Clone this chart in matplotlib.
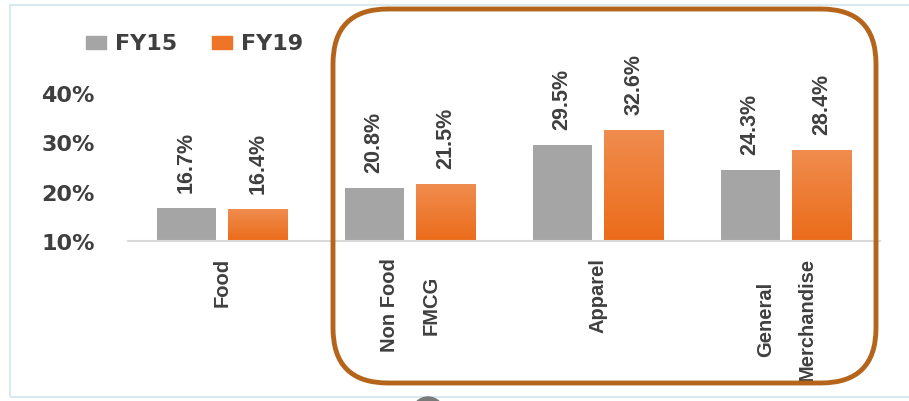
import numpy as np
import matplotlib
matplotlib.use('Agg')
import matplotlib.pyplot as plt
from matplotlib.patches import FancyBboxPatch, Rectangle, Circle
from matplotlib.transforms import IdentityTransform
from matplotlib.colors import LinearSegmentedColormap

### data ======================================================================
categories = ['Food', 'Non Food\nFMCG', 'Apparel', 'General\nMerchandise']
fy15 = [16.7, 20.8, 29.5, 24.3]
fy19 = [16.4, 21.5, 32.6, 28.4]
series_names = ['FY15', 'FY19']
yticks = [10, 20, 30, 40]

### style =====================================================================
c_gray = '#A5A5A5'
c_orange = '#EE7528'
c_text = '#3F3F3F'
c_box = '#B4651B'
narrow = ['Liberation Sans', 'DejaVu Sans']
W, H = 909, 402

fig = plt.figure(figsize=(W/100, H/100), dpi=100)
fig.patch.set_facecolor('white')
ax = fig.add_axes([128/W, (H-242)/H, 752/W, 148/H])

x = np.arange(len(categories))
bw, off = 0.314, 0.191
b1 = ax.bar(x - off, fy15, bw, color=c_gray, zorder=2)
b2 = ax.bar(x + off, fy19, bw, color=c_orange, zorder=2)

# soft vertical gradient on the orange bars
grad = LinearSegmentedColormap.from_list('og', ['#EB6C1A', '#F08C4E'])
for rect, v in zip(b2, fy19):
    x0 = rect.get_x()
    im = ax.imshow(np.linspace(0, 1, 64).reshape(-1, 1), cmap=grad, origin='lower',
                   extent=[x0, x0 + bw, 10, v], aspect='auto', zorder=2.5)
    im.set_clip_path(rect)

for bars, vals in ((b1, fy15), (b2, fy19)):
    for rect, v in zip(bars, vals):
        ax.annotate(f'{v:.1f}%', (rect.get_x() + bw/2, v), xytext=(0, 11.5),
                    textcoords='offset points', rotation=90, ha='center', va='bottom',
                    fontsize=15.5, fontweight='bold', color=c_text, family=narrow,
                    annotation_clip=False)

ax.set_xlim(-0.5, len(categories) - 0.5)
ax.set_ylim(10, 40)
ax.set_yticks(yticks, labels=[f'{t}%' for t in yticks])
ax.set_xticks(x, labels=categories)
for lab in ax.get_xticklabels():
    lab.set_rotation(90)
    lab.set_family(narrow)
    lab.set_fontsize(14.5)
    lab.set_fontweight('bold')
    lab.set_color(c_text)
    lab.set_multialignment('center')
    lab.set_linespacing(2.5)
for lab in ax.get_yticklabels():
    lab.set_fontsize(16)
    lab.set_fontweight('bold')
    lab.set_color(c_text)
ax.tick_params(axis='x', length=0, pad=11.5)
ax.tick_params(axis='y', length=0, pad=24)
for s in ('top', 'right', 'left'):
    ax.spines[s].set_visible(False)
ax.spines['bottom'].set_color('#D9D9D9')
ax.spines['bottom'].set_linewidth(1.5)
ax.patch.set_visible(False)

# legend drawn in figure pixels
ident = IdentityTransform()
for (sx, tx), name, col in zip(((86, 115), (212, 241)), series_names, (c_gray, c_orange)):
    fig.add_artist(Rectangle((sx, H - 50), 20, 13, transform=ident, color=col))
    fig.text(tx/W, (H - 44)/H, name, fontsize=16, fontweight='bold', color=c_text,
             ha='left', va='center')

# faint screenshot frame and partial circle at bottom
fig.add_artist(Rectangle((10, 4), W, H - 10, transform=ident, fill=False,
                         ec='#DCE8EF', lw=1.5))
fig.add_artist(Circle((428, -12), 16, transform=ident, color='#7A7A7A'))

# rounded highlight box
fig.add_artist(FancyBboxPatch((333, H - 384), 543, 374, transform=ident,
                              boxstyle='round,pad=0,rounding_size=55',
                              fill=False, ec=c_box, lw=3.5, zorder=10))

fig.savefig('out.png', dpi=100)
